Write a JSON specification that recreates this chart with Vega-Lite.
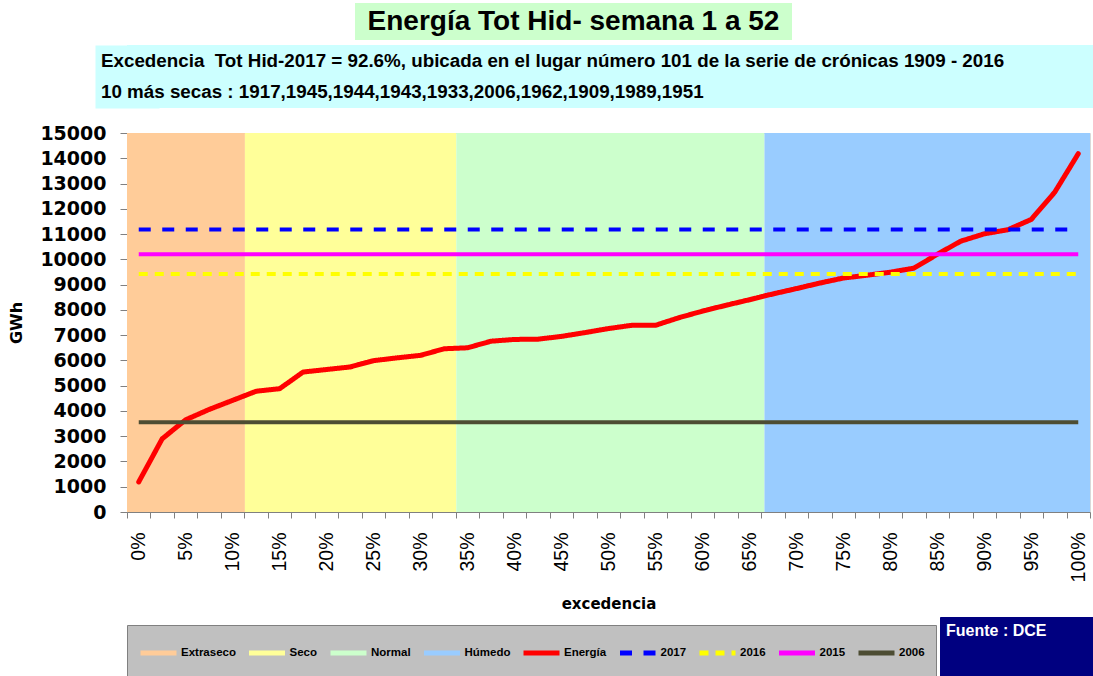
{
  "$schema": "https://vega.github.io/schema/vega-lite/v6.json",
  "background": "white",
  "padding": {"left": 7, "top": 3, "right": 0, "bottom": 0},
  "autosize": {"type": "pad"},
  "config": {"font": "Liberation Sans"},
  "datasets": {
    "bandas": [
      {"serie": "Extraseco", "desde": -1.25, "hasta": 11.3, "fuente": "DCE"},
      {"serie": "Seco", "desde": 11.3, "hasta": 33.8, "fuente": "DCE"},
      {"serie": "Normal", "desde": 33.8, "hasta": 66.6, "fuente": "DCE"},
      {"serie": "Húmedo", "desde": 66.6, "hasta": 101.25, "fuente": "DCE"}
    ],
    "energia": [
      {"serie": "Energía", "exc": 0, "gwh": 1190},
      {"serie": "Energía", "exc": 2.5, "gwh": 2900},
      {"serie": "Energía", "exc": 5, "gwh": 3650},
      {"serie": "Energía", "exc": 7.5, "gwh": 4060},
      {"serie": "Energía", "exc": 10, "gwh": 4420},
      {"serie": "Energía", "exc": 12.5, "gwh": 4780},
      {"serie": "Energía", "exc": 15, "gwh": 4880},
      {"serie": "Energía", "exc": 17.5, "gwh": 5540},
      {"serie": "Energía", "exc": 20, "gwh": 5640},
      {"serie": "Energía", "exc": 22.5, "gwh": 5740},
      {"serie": "Energía", "exc": 25, "gwh": 5990},
      {"serie": "Energía", "exc": 27.5, "gwh": 6100},
      {"serie": "Energía", "exc": 30, "gwh": 6200},
      {"serie": "Energía", "exc": 32.5, "gwh": 6460},
      {"serie": "Energía", "exc": 35, "gwh": 6500},
      {"serie": "Energía", "exc": 37.5, "gwh": 6760},
      {"serie": "Energía", "exc": 40, "gwh": 6830},
      {"serie": "Energía", "exc": 42.5, "gwh": 6840},
      {"serie": "Energía", "exc": 45, "gwh": 6950},
      {"serie": "Energía", "exc": 47.5, "gwh": 7100},
      {"serie": "Energía", "exc": 50, "gwh": 7260},
      {"serie": "Energía", "exc": 52.5, "gwh": 7390},
      {"serie": "Energía", "exc": 55, "gwh": 7390},
      {"serie": "Energía", "exc": 57.5, "gwh": 7690},
      {"serie": "Energía", "exc": 60, "gwh": 7950},
      {"serie": "Energía", "exc": 62.5, "gwh": 8180},
      {"serie": "Energía", "exc": 65, "gwh": 8400},
      {"serie": "Energía", "exc": 67.5, "gwh": 8630},
      {"serie": "Energía", "exc": 70, "gwh": 8840},
      {"serie": "Energía", "exc": 72.5, "gwh": 9060},
      {"serie": "Energía", "exc": 75, "gwh": 9260},
      {"serie": "Energía", "exc": 77.5, "gwh": 9370},
      {"serie": "Energía", "exc": 80, "gwh": 9490},
      {"serie": "Energía", "exc": 82.5, "gwh": 9650},
      {"serie": "Energía", "exc": 85, "gwh": 10200},
      {"serie": "Energía", "exc": 87.5, "gwh": 10720},
      {"serie": "Energía", "exc": 90, "gwh": 11010},
      {"serie": "Energía", "exc": 92.5, "gwh": 11170},
      {"serie": "Energía", "exc": 95, "gwh": 11580},
      {"serie": "Energía", "exc": 97.5, "gwh": 12660},
      {"serie": "Energía", "exc": 100, "gwh": 14180}
    ],
    "referencias": [
      {"serie": "2017", "exc": 0, "gwh": 11180},
      {"serie": "2017", "exc": 100, "gwh": 11180},
      {"serie": "2016", "exc": 0, "gwh": 9420},
      {"serie": "2016", "exc": 100, "gwh": 9420},
      {"serie": "2015", "exc": 0, "gwh": 10200},
      {"serie": "2015", "exc": 100, "gwh": 10200},
      {"serie": "2006", "exc": 0, "gwh": 3550},
      {"serie": "2006", "exc": 100, "gwh": 3550}
    ],
    "titulo": [{"fila": 1, "texto": "Energía Tot Hid- semana 1 a 52"}],
    "subtitulo": [
      {"fila": 1, "texto": "Excedencia\u00a0 Tot Hid-2017 = 92.6%, ubicada en el lugar número 101 de la serie de crónicas 1909 - 2016"},
      {"fila": 2, "texto": "10 más secas : 1917,1945,1944,1943,1933,2006,1962,1909,1989,1951"}
    ]
  },
  "concat": [
    {
      "vconcat": [
        {
          "hconcat": [
            {
              "width": 228, "height": 37,
              "view": {"fill": "white", "stroke": null},
              "data": {"values": [{}]},
              "mark": {"type": "text"},
              "encoding": {"text": {"value": ""}}
            },
            {
              "width": 437, "height": 37,
              "view": {"fill": "#ccffcc", "stroke": null},
              "data": {"name": "titulo"},
              "mark": {"type": "text", "font": "Liberation Sans", "fontWeight": "bold", "fontSize": 28, "color": "black", "baseline": "middle"},
              "encoding": {"text": {"field": "texto"}}
            }
          ],
          "spacing": 0
        },
        {
          "width": 966, "height": 63,
          "view": {"fill": "#ccffff", "stroke": null},
          "data": {"name": "subtitulo"},
          "mark": {"type": "text", "font": "Liberation Sans", "fontWeight": "bold", "fontSize": 18.8, "color": "black", "align": "left", "baseline": "middle", "dx": -26},
          "encoding": {
            "text": {"field": "texto"},
            "x": {"datum": 0, "type": "quantitative", "scale": {"domain": [0, 1]}, "axis": null},
            "y": {
              "field": "fila", "type": "ordinal",
              "axis": {"labels": false, "ticks": false, "title": null, "grid": false, "domain": true, "domainWidth": 64, "domainColor": "#ccffff", "domainCap": "butt", "zindex": 0}
            }
          }
        }
      ],
      "spacing": 5
    },
    {
      "width": 963,
      "height": 379,
      "view": {"stroke": "#d9d9d9"},
      "layer": [
        {
          "data": {"name": "bandas"},
          "mark": {"type": "rect"},
          "encoding": {
            "x": {
              "field": "desde", "type": "quantitative",
              "scale": {"domain": [-1.25, 101.25], "nice": false, "zero": false},
              "axis": {
                "orient": "bottom",
                "values": [-1.25, 1.25, 3.75, 6.25, 8.75, 11.25, 13.75, 16.25, 18.75, 21.25, 23.75, 26.25, 28.75, 31.25, 33.75, 36.25, 38.75, 41.25, 43.75, 46.25, 48.75, 51.25, 53.75, 56.25, 58.75, 61.25, 63.75, 66.25, 68.75, 71.25, 73.75, 76.25, 78.75, 81.25, 83.75, 86.25, 88.75, 91.25, 93.75, 96.25, 98.75, 101.25],
                "labels": false, "title": null, "grid": false,
                "tickSize": 6, "tickColor": "#808080", "domainColor": "#808080"
              }
            },
            "x2": {"field": "hasta"},
            "color": {
              "field": "serie", "type": "nominal",
              "scale": {
                "domain": ["Extraseco", "Seco", "Normal", "Húmedo", "Energía", "2017", "2016", "2015", "2006"],
                "range": ["#ffcc99", "#ffff99", "#ccffcc", "#99ccff", "#ff0000", "#0000ff", "#ffff00", "#ff00ff", "#4d4d33"]
              },
              "legend": {
                "title": null,
                "orient": "none", "legendX": 0, "legendY": 492,
                "direction": "horizontal",
                "fillColor": "#c0c0c0", "strokeColor": "#808080",
                "padding": 11,
                "symbolType": "stroke", "symbolSize": 1296, "symbolStrokeWidth": 5, "clipHeight": 34,
                "labelFont": "Liberation Sans",
                "labelFontWeight": "bold", "labelFontSize": 11.5, "labelColor": "black",
                "labelOffset": 2, "columnPadding": 10.5, "labelLimit": 200
              }
            },
            "opacity": {
              "field": "fuente", "type": "ordinal",
              "scale": {"range": [1, 1]},
              "legend": {
                "title": "Fuente : DCE",
                "orient": "none", "legendX": 813, "legendY": 484,
                "fillColor": "#000080", "strokeColor": "#000080",
                "padding": 6,
                "titleColor": "white", "titleFont": "Liberation Sans",
                "titleFontSize": 16, "titleFontWeight": "bold", "titlePadding": 14,
                "symbolType": "stroke", "symbolSize": 12100, "symbolStrokeWidth": 1, "clipHeight": 18,
                "symbolStrokeColor": "#000080", "symbolFillColor": "#000080",
                "labelColor": "#000080", "labelFontSize": 12
              }
            }
          }
        },
        {
          "data": {"name": "energia"},
          "mark": {"type": "line", "strokeWidth": 5, "strokeCap": "round", "strokeJoin": "round"},
          "encoding": {
            "x": {
              "field": "exc", "type": "quantitative",
              "axis": {
                "orient": "bottom",
                "values": [0, 5, 10, 15, 20, 25, 30, 35, 40, 45, 50, 55, 60, 65, 70, 75, 80, 85, 90, 95, 100],
                "labelExpr": "datum.value + '%'",
                "labelAngle": -90, "labelFont": "Liberation Sans", "labelFontSize": 19.5, "labelColor": "black",
                "ticks": false, "tickSize": 0, "labelPadding": 20, "domain": false, "grid": false,
                "labelOverlap": false, "labelFlush": false, "labelBound": false,
                "title": "excedencia", "titleFont": "DejaVu Sans", "titleFontWeight": "bold", "titleFontSize": 15,
                "titleColor": "black", "titlePadding": 15
              }
            },
            "y": {
              "field": "gwh", "type": "quantitative",
              "scale": {"domain": [0, 15000], "nice": false},
              "axis": {
                "values": [0, 1000, 2000, 3000, 4000, 5000, 6000, 7000, 8000, 9000, 10000, 11000, 12000, 13000, 14000, 15000],
                "format": "d", "grid": false,
                "title": "GWh", "titleFont": "DejaVu Sans", "titleFontSize": 16, "titleFontWeight": "bold",
                "titleColor": "black", "titlePadding": 16,
                "labelFont": "DejaVu Sans", "labelFontSize": 19, "labelFontWeight": "bold", "labelColor": "black",
                "labelPadding": 14, "tickSize": 7, "tickColor": "#808080", "domainColor": "#808080",
                "minExtent": 87, "maxExtent": 87, "labelFlush": false, "labelOverlap": false
              }
            },
            "color": {
              "field": "serie", "type": "nominal",
              "scale": {"domain": ["Extraseco", "Seco", "Normal", "Húmedo", "Energía", "2017", "2016", "2015", "2006"]}
            },
            "strokeDash": {
              "field": "serie", "type": "nominal",
              "scale": {
                "domain": ["Extraseco", "Seco", "Normal", "Húmedo", "Energía", "2017", "2016", "2015", "2006"],
                "range": [[1, 0], [1, 0], [1, 0], [1, 0], [1, 0], [12, 11.5], [9, 7], [1, 0], [1, 0]]
              }
            }
          }
        },
        {
          "data": {"name": "referencias"},
          "mark": {"type": "line", "strokeWidth": 4, "strokeCap": "butt"},
          "encoding": {
            "x": {"field": "exc", "type": "quantitative", "axis": null},
            "y": {
              "field": "gwh", "type": "quantitative",
              "axis": {
                "values": [0, 1000, 2000, 3000, 4000, 5000, 6000, 7000, 8000, 9000, 10000, 11000, 12000, 13000, 14000, 15000],
                "format": "d", "grid": false,
                "title": "GWh", "titleFont": "DejaVu Sans", "titleFontSize": 16, "titleFontWeight": "bold",
                "titleColor": "black", "titlePadding": 16,
                "labelFont": "DejaVu Sans", "labelFontSize": 19, "labelFontWeight": "bold", "labelColor": "black",
                "labelPadding": 14, "tickSize": 7, "tickColor": "#808080", "domainColor": "#808080",
                "minExtent": 87, "maxExtent": 87, "labelFlush": false, "labelOverlap": false
              }
            },
            "color": {
              "field": "serie", "type": "nominal",
              "scale": {"domain": ["Extraseco", "Seco", "Normal", "Húmedo", "Energía", "2017", "2016", "2015", "2006"]}
            },
            "strokeDash": {
              "field": "serie", "type": "nominal",
              "scale": {"domain": ["Extraseco", "Seco", "Normal", "Húmedo", "Energía", "2017", "2016", "2015", "2006"]}
            }
          }
        }
      ],
      "resolve": {"axis": {"x": "independent"}}
    }
  ],
  "columns": 1,
  "align": "none",
  "spacing": 15,
  "resolve": {"scale": {"color": "independent", "opacity": "independent", "strokeDash": "independent"}}
}
